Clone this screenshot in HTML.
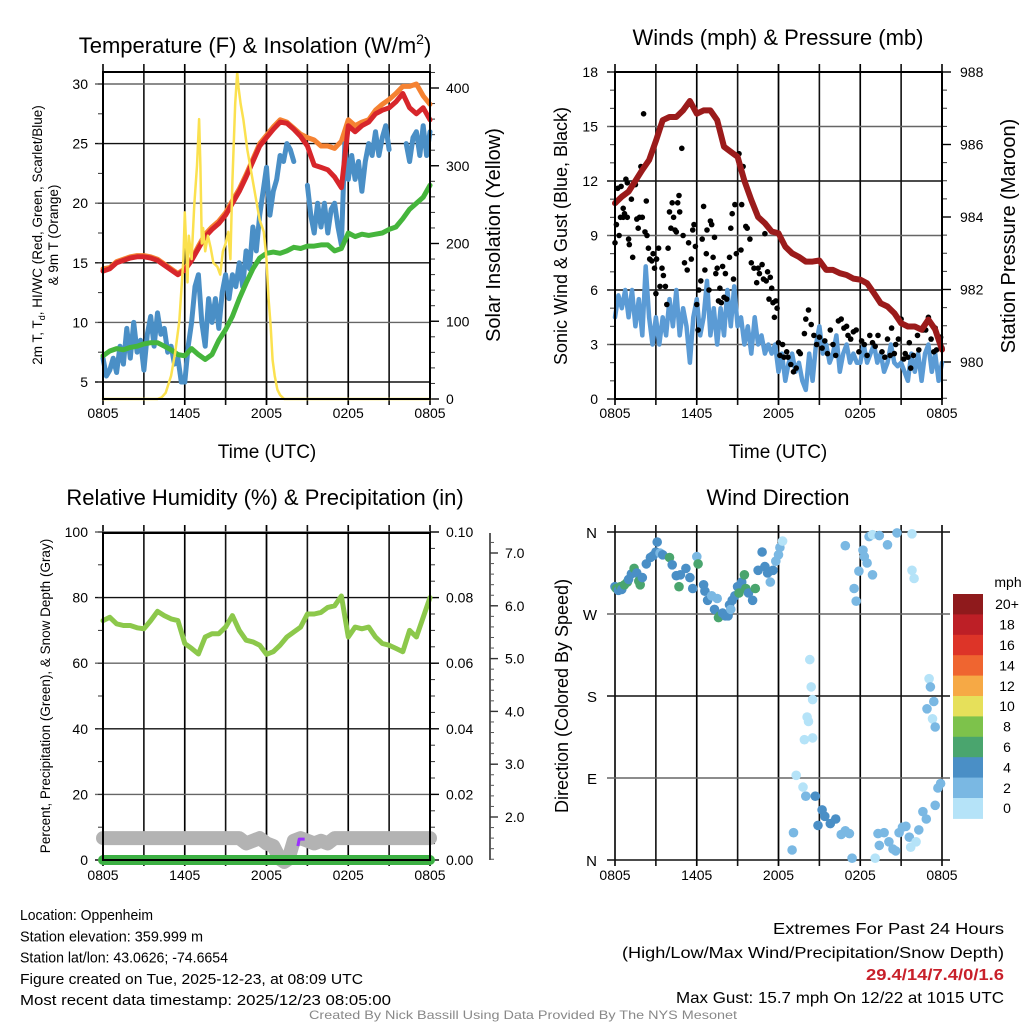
<!DOCTYPE html>
<html><head><meta charset="utf-8"><style>
html,body{margin:0;padding:0;background:#fff;}
svg{display:block;font-family:"Liberation Sans",sans-serif;}
</style></head><body>
<svg id="chart" width="1024" height="1024" viewBox="0 0 1024 1024"></svg>
<script>
// ---------- DATA ----------
const hours = [0,0.5,1,1.5,2,2.5,3,3.5,4,4.5,5,5.5,6,6.5,7,7.5,8,8.5,9,9.5,10,10.5,11,11.5,12,12.5,13,13.5,14,14.5,15,15.5,16,16.5,17,17.5,18,18.5,19,19.5,20,20.5,21,21.5,22,22.5,23,23.5,24];
const quarterHours = [0,0.25,0.5,0.75,1,1.25,1.5,1.75,2,2.25,2.5,2.75,3,3.25,3.5,3.75,4,4.25,4.5,4.75,5,5.25,5.5,5.75,6,6.25,6.5,6.75,7,7.25,7.5,7.75,8,8.25,8.5,8.75,9,9.25,9.5,9.75,10,10.25,10.5,10.75,11,11.25,11.5,11.75,12,12.25,12.5,12.75,13,13.25,13.5,13.75,14,14.25,14.5,14.75,15,15.25,15.5,15.75,16,16.25,16.5,16.75,17,17.25,17.5,17.75,18,18.25,18.5,18.75,19,19.25,19.5,19.75,20,20.25,20.5,20.75,21,21.25,21.5,21.75,22,22.25,22.5,22.75,23,23.25,23.5,23.75,24];
const timeTickHours = [0,6,12,18,24];
const timeTickLabels = ["0805","1405","2005","0205","0805"];
const tempValues = [14.3,14.5,15,15.2,15.4,15.5,15.5,15.4,15.2,14.8,14.4,14.0,14.4,15.2,16.2,17.2,17.8,18.3,19,20,21,22.2,23.5,24.8,25.5,26.2,26.8,26.7,26.2,25.6,24.8,23.2,23,22.8,22.2,21.3,26.5,26,26.5,26.8,27.5,27.8,28,28.5,29.2,28,27.5,28,27];
const temp9mValues = [14.5,14.6,15.1,15.3,15.5,15.6,15.6,15.5,15.3,14.9,14.5,14.1,14.5,15.3,16.4,17.4,18,18.5,19.2,20.2,21.2,22.4,23.7,25,25.7,26.4,27,26.8,26.3,25.8,25.5,25.3,24.8,24.8,24.6,25.2,27,26.5,26.8,27,27.8,28.3,28.7,29.2,29.8,29.8,30,29,28.3];
const windChillValues = [7,5.5,6,7,5.8,8,6.5,9.5,7,10,7.5,8.5,6,9,10.5,8,10.8,9,9.5,7.5,8,6.5,7,5,5,8,10,13,14,10,8,12,10,12,9.5,12.5,14,12,14,13,15,13,16,14.5,18,16,19,21,23,19,21,22,24,23.5,25,24.5,23.5,null,null,null,21.5,19,17.5,20,18,20,17.5,19.5,20,18,16.5,25,22,24,22,23.5,21,23.5,25,24,26,24,25.5,26.5,24.5,null,null,null,null,25,23.5,25.5,26,24,26.5,24,26];
const dewpointValues = [7.2,7.6,7.8,7.7,7.9,8,8.2,8.3,8.3,8,7.7,7.3,7.2,7.8,7.3,6.9,7.3,8.5,9.4,10.5,12,13.3,14.5,15.4,15.8,15.9,15.8,16,16.3,16.2,16.4,16.4,16.5,16.5,16,16.2,17.5,17.2,17.4,17.3,17.4,17.5,17.8,18,18.7,19.5,20,20.5,21.5];
const solarHours = [0,4,4.3,4.6,5,5.3,5.6,5.9,6.0,6.1,6.2,6.3,6.5,6.7,6.9,7.05,7.15,7.25,7.35,7.5,7.7,7.9,8.1,8.4,8.6,8.8,9.0,9.2,9.35,9.5,9.7,9.85,9.95,10.1,10.3,10.6,10.9,11.2,11.5,11.8,12.0,12.15,12.3,12.45,12.6,12.8,13.0,13.3,24];
const solarValues = [0,0,2,8,30,60,100,180,240,200,150,210,180,250,300,360,300,200,220,190,210,195,175,170,160,190,200,215,180,280,380,420,400,380,360,320,290,260,230,215,180,130,95,50,30,12,5,0,0];
const tempTicks = [5,10,15,20,25,30];
const solarTicks = [0,100,200,300,400];

const pressureValues = [984.38,984.56,984.7,985.0,985.3,985.57,986.1,986.67,986.76,986.76,986.94,987.2,986.85,986.94,986.94,986.67,985.94,985.8,985.66,985.0,984.47,984.0,983.83,983.6,983.55,983.18,983.0,982.9,982.77,982.77,982.8,982.54,982.54,982.45,982.4,982.3,982.27,982.17,981.9,981.62,981.53,981.35,981.07,980.98,980.98,980.89,981.17,980.9,980.34];
const windValues = [4.5,5.7,5,6,4.5,6,4,5.5,3.5,7.3,4.5,3,4.5,3,4.5,3.5,5.5,4,6,3.5,5,4,2,4.5,5.5,3.5,4.5,6.5,3.5,5,3,5,3.5,6,4,6.2,4,4.5,3,4,2.5,4.5,3,3.5,2.5,3,2.5,3,1.5,2.5,1,2,2.5,1.5,2,1,0.5,2.5,1,3,4,2.5,3,2,2.5,3.5,1.5,2.5,3,2,2.5,2,2,3,2,2.5,3,2,2.5,1.5,2,3,2,1.8,2,1.5,1,2.5,1.5,2.5,1,2.5,3,1.5,2.5,1,2];
const gustHours = [0,0.05,0.1,0.2,0.3,0.4,0.45,0.6,0.6,0.7,0.8,0.9,0.9,1.0,1.05,1.2,1.3,1.5,1.6,1.7,1.8,1.9,2.0,2.1,2.2,2.3,2.35,2.45,2.55,2.7,2.8,2.9,3.0,3.05,3.2,3.3,3.45,3.55,3.7,3.8,3.9,4.0,4.1,4.2,4.3,4.4,4.5,4.6,4.7,4.75,4.9,5.0,5.1,5.3,5.4,5.6,5.7,5.8,5.9,6.0,6.1,6.15,6.3,6.4,6.5,6.6,6.7,6.75,6.9,7.0,7.1,7.2,7.3,7.4,7.5,7.6,7.7,7.8,7.9,8.0,8.1,8.2,8.4,8.5,8.6,8.7,8.8,8.9,9.1,9.15,9.25,9.3,9.4,9.6,9.7,9.9,10.0,10.2,10.4,10.5,10.6,10.8,10.9,11.0,11.1,11.2,11.3,11.4,11.5,11.6,11.7,11.8,11.9,12.0,12.1,12.3,12.4,12.6,12.7,12.9,13.1,13.3,13.5,13.6,13.9,14.0,14.2,14.4,14.6,14.8,15.0,15.2,15.4,15.6,15.8,16.0,16.2,16.4,16.6,16.8,17.0,17.1,17.3,17.5,17.7,17.9,18.1,18.3,18.5,18.7,18.9,19.1,19.3,19.6,19.8,20.0,20.2,20.3,20.5,20.6,20.8,21.0,21.2,21.3,21.5,21.6,21.7,21.9,22.2,22.3,22.6,22.8,23.0,23.2,23.4,23.5,23.6,23.8,23.9,24.0];
const gustValues = [8.6,10.8,9.6,11.6,9,10,11.7,10,10.5,10.2,12.1,11.9,10,8.8,8.5,11,7.8,11.8,9.9,9.4,10,12.8,10,15.7,9.2,10.9,9,8.3,7.7,7.6,8,7.2,5.8,7.7,8.3,6.2,7.2,6.8,6.2,5.2,8.3,10.3,9.4,10.8,10,9.3,9.2,10.8,11.2,10.3,13.8,9,7.5,7.1,8.6,7.7,9.3,9.6,8.4,5.2,3.8,6,6.5,8.8,10.6,7.1,8,9.3,6,9.8,9.6,7.8,8.9,6.9,7.2,5.4,6.1,5.3,7.3,5.6,6.9,5.5,7.8,9.4,10.2,6.6,10.7,8,13.5,12.9,8.2,10.7,12.8,9.5,9.4,8.8,7.5,7.2,6.4,7.2,6.9,7.4,6.6,9.1,6.5,7,5.5,6.7,6.1,5.3,4.5,5.4,5,3.1,2.4,3,2.3,2.6,2.3,1.9,1.5,1.7,2.6,2.5,3.6,4.4,4.9,4.1,3.5,3,3.4,2.8,3.2,2.5,3.8,3,2.4,4.3,4.4,3.9,4,3.5,3.3,3.7,3.8,2.6,3.2,3,2.4,3.5,3.1,2.9,3.5,2.6,2.3,3.3,2.4,3.9,2.5,3,3.3,4.4,2.2,2.5,2.3,3.1,1.7,2.4,3.5,2.7,3.8,3.8,4.5,3.3,2.6,3.9,2.7,3.3,3.4,2.8];
const windTicks = [0,3,6,9,12,15,18];
const pressureTicks = [980,982,984,986,988];

const rhValues = [73,74,72,71.5,71.5,70.8,70.5,73,75.8,74.5,73.5,73,66,64.5,62.8,68,69,69,71,74.5,70,67,66.5,65.5,62.7,63.5,65.5,68,69.5,71,75,75,75.5,77,77.5,80.5,68,71,70.5,71,68,66,65.5,64.5,63.5,70,68,74,80];
const precipValues = [0,0,0,0,0,0,0,0,0,0,0,0,0,0,0,0,0,0,0,0,0,0,0,0,0,0,0,0,0,0,0,0,0,0,0,0,0,0,0,0,0,0,0,0,0,0,0,0,0];
const snowHours = [0,10,10.5,11,11.5,12,12.5,13,13.3,13.6,14,14.5,15,15.5,16,16.5,17,24];
const snowValues = [1.6,1.6,1.5,1.55,1.6,1.5,1.45,1.2,1.15,1.2,1.55,1.6,1.55,1.5,1.55,1.5,1.6,1.6];
const rhTicks = [0,20,40,60,80,100];
const precipTickLabels = ["0.00","0.02","0.04","0.06","0.08","0.10"];
const snowTicks = [2,3,4,5,6,7];

const dirHours = [0,0.1,0.25,0.4,0.5,0.7,0.9,1.0,1.2,1.4,1.6,1.75,1.85,2.0,2.3,2.6,2.8,3.0,3.1,3.3,3.5,4.0,4.2,4.5,4.7,4.8,5.2,5.5,5.7,6.0,6.1,6.5,6.6,6.8,7.1,7.3,7.5,7.6,7.7,7.9,8.1,8.3,8.4,8.5,8.6,8.8,9.0,9.1,9.3,9.5,9.6,9.8,10.1,10.3,10.5,10.8,11.0,11.2,11.4,11.6,11.8,12.0,12.1,12.3,13.0,13.1,13.3,13.8,14.0,14.3,14.4,14.5,14.1,14.2,13.9,14.5,14.7,14.9,15.2,15.4,15.8,16.2,16.6,16.9,17.2,17.4,16.9,17.55,17.7,17.9,18.2,18.3,18.5,18.9,18.65,18.9,19.4,20.0,20.7,21.8,21.8,21.95,19.1,19.3,19.4,19.75,20.1,20.4,20.6,20.85,21.1,21.35,21.6,21.7,22.1,22.3,22.6,22.85,23.5,23.7,23.9,22.9,23.05,23.15,23.4,23.3,23.5];
const dirValues = [300,298,296,300,297,302,305,308,314,320,315,306,302,310,325,332,334,338,349,337,335,332,324,312,300,313,320,310,298,333,325,302,295,285,290,275,287,266,268,271,268,268,280,275,285,290,300,293,305,313,298,293,285,298,318,338,322,315,305,318,328,335,343,350,11,30,93,80,70,220,190,176,157,152,132,134,70,38,55,48,40,45,28,32,29,2,345,298,284,317,340,333,326,313,355,357,356,346,359,358,318,309,2,29,16,30,20,12,10,30,36,37,25,14,20,33,53,45,60,79,84,166,199,190,174,155,146];
const dirSpeeds = [4,6,4,6,4,6,6,4,4,6,4,6,6,4,4,4,4,4,4,2,4,6,4,4,6,4,4,4,4,2,6,4,4,4,2,4,2,6,6,4,4,4,4,2,4,4,4,6,4,6,6,4,4,6,4,4,4,4,2,4,2,2,2,0,2,2,0,0,2,0,0,0,0,0,0,0,4,4,4,4,4,4,2,2,2,2,2,2,2,2,2,2,2,2,2,0,2,2,2,0,0,0,0,2,2,2,2,2,2,2,2,2,2,0,0,2,2,2,2,2,2,2,0,2,2,0,2,2];
const speedBins = [0,2,4,6,8,10,12,14,16,18,20];
const speedLabels = ["0","2","4","6","8","10","12","14","16","18","20+"];
const speedColors = ["#b5e3f8","#7ab8e3","#4a8fc6","#4aa56e","#7dc24b","#e6e05a","#f6a945","#ef6530","#dd3428","#bd1f26","#8f1a1c"];
const dirTickValues = [360,270,180,90,0];
const dirTickLabels = ["N","W","S","E","N"];

// ---------- HELPERS ----------
const NS = "http://www.w3.org/2000/svg";
const svg = document.getElementById('chart');
function mk(tag, a, p){const e=document.createElementNS(NS,tag);for(const k in a)e.setAttribute(k,a[k]);(p||svg).appendChild(e);return e;}
function txt(s,a,p){const e=mk('text',a,p);e.textContent=s;return e;}
function pathFrom(xs,ys,fx,fy){let d='',pen=false;for(let i=0;i<xs.length;i++){const v=ys[i];if(v===null||v===undefined){pen=false;continue;}d+=(pen?'L':'M')+fx(xs[i]).toFixed(1)+' '+fy(v).toFixed(1);pen=true;}return d;}

const X0=103,X1=430,X0b=615,X1b=942;
function xA(h){return X0+h*(X1-X0)/24;}
function xB(h){return X0b+h*(X1b-X0b)/24;}

function frame(x0,x1,y0,y1,g,name){
  const r=mk('rect',{x:x0,y:y0,width:x1-x0,height:y1-y0,fill:'none',stroke:'#000','stroke-width':2},g);
  
  
}
function vgrid(fx,y0,y1,g){
  for(let h=3;h<24;h+=3){
    const l=mk('line',{x1:fx(h),x2:fx(h),y1:y0-8,y2:y1+6,stroke:(h%6===0)?'#666':'#111','stroke-width':1.6},g);
    
    
  }
  for(let i=0;i<timeTickHours.length;i++){
    const t=mk('line',{x1:fx(timeTickHours[i]),x2:fx(timeTickHours[i]),y1:y0-8,y2:y1+6,stroke:'#000','stroke-width':1.6},g);
    
    
  }
}
function xlabels(fx,y,g){
  for(let i=0;i<timeTickHours.length;i++){
    const t=txt(timeTickLabels[i],{x:fx(timeTickHours[i]),y:y,'font-size':14,'text-anchor':'middle'},g);
    
    
  }
}
function hgrid(vals,fy,x0,x1,g,labels,lx,anchor,name){
  vals.forEach((v,i)=>{
    const y=fy(v);
    const l=mk('line',{x1:x0-8,x2:x1,y1:y,y2:y,stroke:(i%2)?'#666':'#111','stroke-width':1.4},g);
    
    
    if(labels){
      const t=txt(labels[i],{x:lx,y:y+5,'font-size':14,'text-anchor':anchor},g);
      
      
    }
  });
}
function rightTicks(vals,fy,x,g,labels,lx,name,minorStep,minorFrom,minorTo){
  if(minorStep){for(let v=minorFrom;v<=minorTo+1e-9;v+=minorStep){const y=fy(v);const m=mk('line',{x1:x,x2:x+5,y1:y,y2:y,stroke:'#333','stroke-width':1},g);}}
  vals.forEach((v,i)=>{
    const y=fy(v);
    const l=mk('line',{x1:x,x2:x+9,y1:y,y2:y,stroke:'#000','stroke-width':1.4},g);
    
    
    const t=txt(labels[i],{x:lx,y:y+5,'font-size':14,'text-anchor':'start'},g);
    
    
  });
}
function leftMinor(fy,from,to,step,x,g){
  for(let v=from;v<=to+1e-9;v+=step){const y=fy(v);const m=mk('line',{x1:x-5,x2:x,y1:y,y2:y,stroke:'#333','stroke-width':1},g);}
}
function title(s,x,y,g,name,size){
  const t=txt(s,{x:x,y:y,'font-size':size||22,'text-anchor':'middle'},g);
  
  
  return t;
}
function vtitle(s,x,y,size,g,name){
  const t=txt(s,{x:0,y:0,'font-size':size,'text-anchor':'middle',transform:`translate(${x},${y}) rotate(-90)`},g);
  
  
  return t;
}
function line(d,color,w,g,name,cap){
  const p=mk('path',{d:d,fill:'none',stroke:color,'stroke-width':w,'stroke-linejoin':'round','stroke-linecap':cap||'round'},g);
  
  
  return p;
}

// ---------- PANEL 1 ----------
const g1=mk('g',{});


const yT=v=>382-(v-5)*(298/25);
const yS=s=>399-s*(311/400);
vgrid(xA,72,399,g1);
hgrid(tempTicks,yT,X0,X1,g1,tempTicks.map(String),88,'end','temperature');
leftMinor(yT,5,30,2.5,X0,g1);
rightTicks(solarTicks,yS,X1,g1,solarTicks.map(String),446,'solar',20,0,420);
line(pathFrom(hours,temp9mValues,xA,yT),'#f58232',5,g1,'9m-temperature-line');
line(pathFrom(quarterHours,windChillValues,xA,yT),'#4a8fc6',5,g1,'wind-chill-line');
line(pathFrom(hours,dewpointValues,xA,yT),'#45b53c',5,g1,'dewpoint-line');
line(pathFrom(hours,tempValues,xA,yT),'#d7262b',5,g1,'temperature-line');
line(pathFrom(solarHours,solarValues,xA,yS),'#fbe14f',2.5,g1,'solar-insolation-line');
frame(X0,X1,72,399,g1,'temperature-plot-frame');
xlabels(xA,418,g1);
const t1=title('Temperature (F) & Insolation (W/m',255,53,g1,'temperature-panel-title');
const sup=mk('tspan',{dy:-9,'font-size':14},t1);sup.textContent='2';
const cl=mk('tspan',{dy:9},t1);cl.textContent=')';
title('Time (UTC)',267,458,g1,'temperature-x-axis-title',19);
const yt1=vtitle('',42,235,13.5,g1,'temperature-y-axis-title');
const ts1=mk('tspan',{x:0,y:0},yt1);ts1.textContent='2m T, T';
const ts1b=mk('tspan',{'font-size':9,dy:3},yt1);ts1b.textContent='d';
const ts1c=mk('tspan',{dy:-3},yt1);ts1c.textContent=', HI/WC (Red, Green, Scarlet/Blue)';
const ts1d=mk('tspan',{x:0,y:16},yt1);ts1d.textContent='& 9m T (Orange)';
vtitle('Solar Insolation (Yellow)',500,235,20,g1,'solar-y-axis-title');

// ---------- PANEL 2 ----------
const g2=mk('g',{});


const yW=v=>399-v*(327/18);
const yP=p=>362-(p-980)*36.25;
vgrid(xB,72,399,g2);
hgrid(windTicks,yW,X0b,X1b,g2,windTicks.map(String),598,'end','wind');
leftMinor(yW,0,18,1,X0b,g2);
rightTicks(pressureTicks,yP,X1b,g2,pressureTicks.map(String),960,'pressure',0.5,979,988);
line(pathFrom(quarterHours,windValues,xB,yW),'#5b9bd5',4.5,g2,'sonic-wind-line');
for(let i=0;i<gustHours.length;i++){
  const c=mk('circle',{cx:xB(gustHours[i]).toFixed(1),cy:yW(gustValues[i]).toFixed(1),r:2.8,fill:'#000'},g2);
  
  
}
line(pathFrom(hours,pressureValues,xB,yP),'#9b1b1b',6,g2,'station-pressure-line');
frame(X0b,X1b,72,399,g2,'winds-plot-frame');
xlabels(xB,418,g2);
title('Winds (mph) & Pressure (mb)',778,45,g2,'winds-panel-title');
title('Time (UTC)',778,458,g2,'winds-x-axis-title',19);
vtitle('Sonic Wind & Gust (Blue, Black)',567,236,18,g2,'wind-y-axis-title');
vtitle('Station Pressure (Maroon)',1015,236,20,g2,'pressure-y-axis-title');

// ---------- PANEL 3 ----------
const g3=mk('g',{});


const yRH=v=>860-v*3.28;
const yPr=v=>860-v*3280;
const ySn=s=>817-(s-2)*52.8;
vgrid(xA,533,860,g3);
hgrid(rhTicks,yRH,X0,X1,g3,rhTicks.map(String),88,'end','humidity');
leftMinor(yRH,0,100,10,X0,g3);
rightTicks([0,0.02,0.04,0.06,0.08,0.10],yPr,X1,g3,precipTickLabels,446,'precipitation',0.005,0,0.1);
line(pathFrom(snowHours,snowValues,xA,ySn),'#b3b3b3',14,g3,'snow-depth-line');
line('M'+xA(14.3)+' '+ySn(1.45)+'L'+xA(14.4)+' '+ySn(1.58)+'L'+xA(14.8)+' '+ySn(1.58),'#9b30ff',3,g3,'precipitation-marker','butt');
line(pathFrom(hours,precipValues,xA,yPr),'#3cb043',10,g3,'precipitation-line');
line(pathFrom(hours,rhValues,xA,yRH),'#8cc84b',5,g3,'relative-humidity-line');
frame(X0,X1,533,860,g3,'humidity-plot-frame');
xlabels(xA,880,g3);
const sa=mk('line',{x1:490,x2:490,y1:533,y2:860,stroke:'#333','stroke-width':1.6},g3);


for(let v=1.2;v<=7.4;v+=0.2){const y=ySn(v);if(y<533||y>860)continue;const m=mk('line',{x1:490,x2:494,y1:y,y2:y,stroke:'#555','stroke-width':1},g3);}
snowTicks.forEach(v=>{
  const y=ySn(v);
  const l=mk('line',{x1:490,x2:498,y1:y,y2:y,stroke:'#333','stroke-width':1.4},g3);
  
  
  const t=txt(v.toFixed(1),{x:505,y:y+5,'font-size':14},g3);
  
  
});
title('Relative Humidity (%) & Precipitation (in)',265,505,g3,'humidity-panel-title');
vtitle('Percent, Precipitation (Green), & Snow Depth (Gray)',50,696,13.5,g3,'humidity-y-axis-title');

// ---------- PANEL 4 ----------
const g4=mk('g',{});


const yD=d=>860-d*(328/360);
for(let h=3;h<24;h+=3){
  const l=mk('line',{x1:xB(h),x2:xB(h),y1:525,y2:866,stroke:(h%6===0)?'#666':'#111','stroke-width':1.6},g4);
  
  
}
timeTickHours.forEach(h=>{const t=mk('line',{x1:xB(h),x2:xB(h),y1:525,y2:866,stroke:'#000','stroke-width':1.6},g4);});
dirTickValues.forEach((d,i)=>{
  const y=yD(d);
  const l=mk('line',{x1:X0b-8,x2:X1b+8,y1:y,y2:y,stroke:(i%2)?'#666':'#111','stroke-width':1.4},g4);
  
  
  const t=txt(dirTickLabels[i],{x:597,y:y+6,'font-size':15,'text-anchor':'end'},g4);
  
  
});
function speedColor(s){let c=speedColors[0];for(let i=0;i<speedBins.length;i++){if(s>=speedBins[i])c=speedColors[i];}return c;}
for(let i=0;i<dirHours.length;i++){
  const c=mk('circle',{cx:xB(dirHours[i]).toFixed(1),cy:yD(dirValues[i]).toFixed(1),r:4.8,fill:speedColor(dirSpeeds[i])},g4);
  
  
}
xlabels(xB,880,g4);
title('Wind Direction',778,505,g4,'wind-direction-panel-title');
vtitle('Direction (Colored By Speed)',568,696,18,g4,'direction-y-axis-title');
const cb=mk('g',{},g4);


const cbTop=594,cbH=20.4;
for(let i=0;i<speedColors.length;i++){
  const k=speedColors.length-1-i;
  const r=mk('rect',{x:953,y:(cbTop+i*cbH).toFixed(1),width:30,height:cbH+0.5,fill:speedColors[k]},cb);
  
  
  const t=txt(speedLabels[k],{x:1007,y:(cbTop+i*cbH+cbH/2+5).toFixed(1),'font-size':14,'text-anchor':'middle'},cb);
  
  
}
const mph=txt('mph',{x:1008,y:587,'font-size':14,'text-anchor':'middle'},cb);



// ---------- FOOTER ----------
const gf=mk('g',{});


const infoLines=['Location: Oppenheim','Station elevation: 359.999 m','Station lat/lon: 43.0626; -74.6654','Figure created on Tue, 2025-12-23, at 08:09 UTC','Most recent data timestamp: 2025/12/23 08:05:00'];
const infoW=[133,183,208,343,371];
infoLines.forEach((s,i)=>{
  const t=txt(s,{x:20,y:920+i*21.3,'font-size':15,textLength:infoW[i],lengthAdjust:'spacingAndGlyphs'},gf);
  
  
});
const ge=mk('g',{});


const e1=txt('Extremes For Past 24 Hours',{x:1004,y:934,'font-size':16,'text-anchor':'end',textLength:231,lengthAdjust:'spacingAndGlyphs'},ge);


const e2=txt('(High/Low/Max Wind/Precipitation/Snow Depth)',{x:1004,y:958,'font-size':16,'text-anchor':'end',textLength:382,lengthAdjust:'spacingAndGlyphs'},ge);


const e3=txt('29.4/14/7.4/0/1.6',{x:1004,y:980,'font-size':16,'font-weight':'bold','text-anchor':'end',fill:'#c8202a',textLength:138,lengthAdjust:'spacingAndGlyphs'},ge);


const e4=txt('Max Gust: 15.7 mph On 12/22 at 1015 UTC',{x:1004,y:1003,'font-size':16,'text-anchor':'end',textLength:328,lengthAdjust:'spacingAndGlyphs'},ge);


const cr=txt('Created By Nick Bassill Using Data Provided By The NYS Mesonet',{x:523,y:1019,'font-size':12,'text-anchor':'middle',fill:'#888',textLength:428,lengthAdjust:'spacingAndGlyphs'});


</script>
</body></html>
